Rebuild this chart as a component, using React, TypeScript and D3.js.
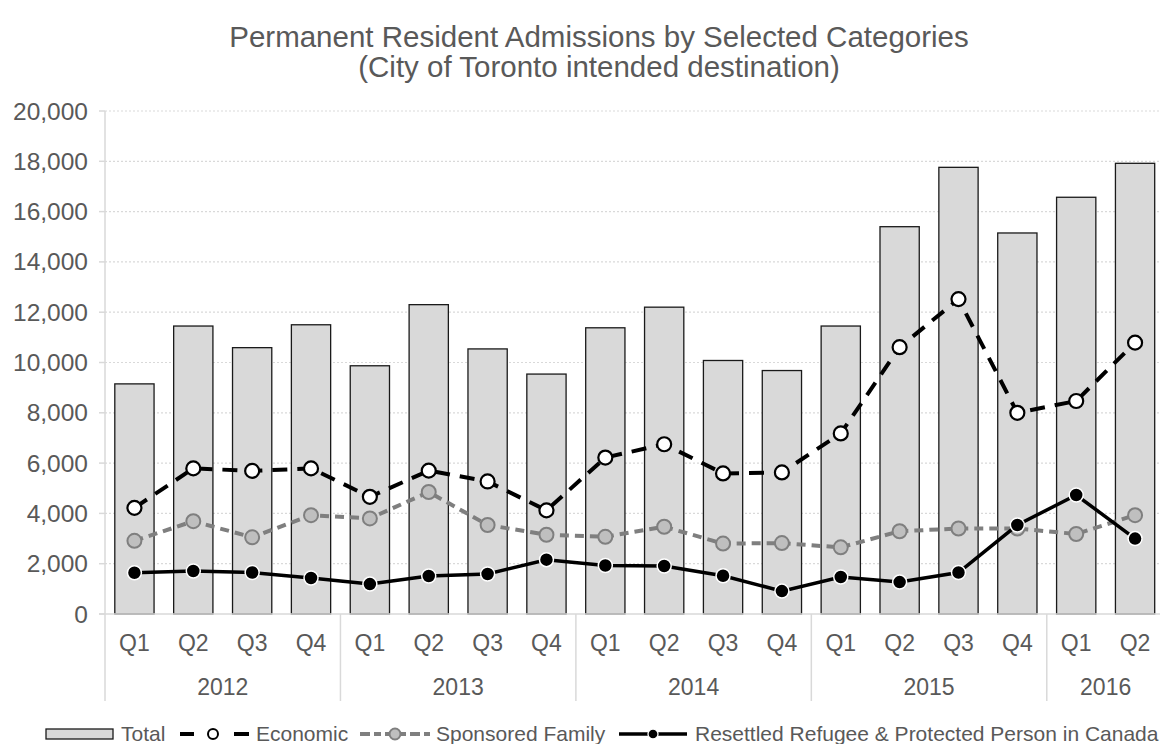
import React, { useEffect, useRef } from 'react';
import * as d3 from 'd3';

const quarters = ['Q1', 'Q2', 'Q3', 'Q4', 'Q1', 'Q2', 'Q3', 'Q4', 'Q1', 'Q2', 'Q3', 'Q4', 'Q1', 'Q2', 'Q3', 'Q4', 'Q1', 'Q2'];
const years = ['2012', '2013', '2014', '2015', '2016'];
const yearSpans = [4, 4, 4, 4, 2];

const total = [9150, 11450, 10590, 11500, 9870, 12300, 10540, 9540, 11380, 12200, 10080, 9680, 11450, 15400, 17760, 15150, 16570, 17920];
const economic = [4220, 5790, 5690, 5790, 4660, 5700, 5270, 4120, 6220, 6750, 5590, 5630, 7180, 10610, 12520, 8000, 8470, 10790];
const sponsored = [2910, 3690, 3050, 3930, 3800, 4850, 3540, 3150, 3070, 3470, 2800, 2820, 2650, 3290, 3400, 3400, 3180, 3930];
const refugee = [1640, 1710, 1650, 1430, 1190, 1510, 1590, 2160, 1930, 1910, 1520, 910, 1470, 1270, 1650, 3540, 4730, 3000];

const yTicks = [0, 2000, 4000, 6000, 8000, 10000, 12000, 14000, 16000, 18000, 20000];

const W = 1160;
const H = 744;
const FONT = 'Liberation Sans, Arial, sans-serif';
const TEXT = '#595959';
const AXIS = '#d9d9d9';

const App: React.FC = () => {
  const svgRef = useRef<SVGSVGElement>(null);

  useEffect(() => {
    if (!svgRef.current) return;
    const svg = d3.select(svgRef.current);
    svg.selectAll('*').remove();

    const left = 105;
    const right = 1164.5;
    const top = 111;
    const bottom = 614;

    const idx = quarters.map((_, i) => i);
    const x = d3.scaleBand<number>().domain(idx).range([left, right]).paddingInner(0.333).paddingOuter(0.1665);
    const step = x.step();
    const cx = (i: number) => (x(i) as number) + x.bandwidth() / 2;
    const y = d3.scaleLinear().domain([0, 20000]).range([bottom, top]);

    // Title
    const title = svg.append('g').attr('font-family', FONT).attr('fill', TEXT).attr('font-size', 29.5).attr('text-anchor', 'middle');
    title.append('text').attr('x', 599).attr('y', 47).text('Permanent Resident Admissions by Selected Categories');
    title.append('text').attr('x', 599).attr('y', 77).text('(City of Toronto intended destination)');

    // Grid lines
    svg.append('g')
      .selectAll('line')
      .data(yTicks.filter(t => t > 0))
      .join('line')
      .attr('x1', left)
      .attr('x2', W)
      .attr('y1', d => y(d))
      .attr('y2', d => y(d))
      .attr('stroke', AXIS)
      .attr('stroke-width', 1.2)
      .attr('stroke-dasharray', '2 2');

    // Y axis
    const yAxis = svg.append('g');
    yAxis.append('line').attr('x1', left).attr('x2', left).attr('y1', top).attr('y2', bottom).attr('stroke', AXIS).attr('stroke-width', 1.5);
    yAxis.selectAll('line.tick')
      .data(yTicks)
      .join('line')
      .attr('class', 'tick')
      .attr('x1', left - 6)
      .attr('x2', left)
      .attr('y1', d => y(d))
      .attr('y2', d => y(d))
      .attr('stroke', AXIS)
      .attr('stroke-width', 1.5);
    yAxis.selectAll('text')
      .data(yTicks)
      .join('text')
      .attr('x', 88)
      .attr('y', d => y(d))
      .attr('dy', '0.35em')
      .attr('text-anchor', 'end')
      .attr('font-family', FONT)
      .attr('font-size', 24.5)
      .attr('fill', TEXT)
      .text(d => d3.format(',')(d));

    // Bars
    svg.append('g')
      .selectAll('rect')
      .data(total)
      .join('rect')
      .attr('x', (_, i) => x(i) as number)
      .attr('y', d => y(d))
      .attr('width', x.bandwidth())
      .attr('height', d => bottom - y(d))
      .attr('fill', '#d9d9d9')
      .attr('stroke', '#1a1a1a')
      .attr('stroke-width', 1.3);

    // X axis
    const xAxis = svg.append('g');
    xAxis.append('line').attr('x1', left - 6).attr('x2', W).attr('y1', bottom).attr('y2', bottom).attr('stroke', AXIS).attr('stroke-width', 1.5);
    let acc = 0;
    const bounds = [0];
    yearSpans.forEach(s => { acc += s; bounds.push(acc); });
    xAxis.selectAll('line.sep')
      .data(bounds)
      .join('line')
      .attr('class', 'sep')
      .attr('x1', d => left + d * step)
      .attr('x2', d => left + d * step)
      .attr('y1', bottom)
      .attr('y2', 701)
      .attr('stroke', AXIS)
      .attr('stroke-width', 1.5);
    xAxis.selectAll('text.q')
      .data(quarters)
      .join('text')
      .attr('class', 'q')
      .attr('x', (_, i) => cx(i))
      .attr('y', 651)
      .attr('text-anchor', 'middle')
      .attr('font-family', FONT)
      .attr('font-size', 23)
      .attr('fill', TEXT)
      .text(d => d);
    xAxis.selectAll('text.yr')
      .data(years)
      .join('text')
      .attr('class', 'yr')
      .attr('x', (_, i) => left + (bounds[i] + yearSpans[i] / 2) * step)
      .attr('y', 695)
      .attr('text-anchor', 'middle')
      .attr('font-family', FONT)
      .attr('font-size', 23)
      .attr('fill', TEXT)
      .text(d => d);

    // Lines
    const line = d3.line<number>().x((_, i) => cx(i)).y(d => y(d));

    const series = [
      { data: sponsored, stroke: '#7f7f7f', width: 4, dash: '9 6', fill: '#bfbfbf', mstroke: '#7f7f7f', r: 7, mw: 2 },
      { data: economic, stroke: '#000000', width: 4, dash: '15 10', fill: '#ffffff', mstroke: '#000000', r: 7, mw: 2.2 },
      { data: refugee, stroke: '#000000', width: 3.5, dash: null, fill: '#000000', mstroke: '#ffffff', r: 7, mw: 1.5 },
    ];

    series.forEach(s => {
      svg.append('path')
        .datum(s.data)
        .attr('fill', 'none')
        .attr('stroke', s.stroke)
        .attr('stroke-width', s.width)
        .attr('stroke-dasharray', s.dash)
        .attr('d', line);
      svg.append('g')
        .selectAll('circle')
        .data(s.data)
        .join('circle')
        .attr('cx', (_, i) => cx(i))
        .attr('cy', d => y(d))
        .attr('r', s.r)
        .attr('fill', s.fill)
        .attr('stroke', s.mstroke)
        .attr('stroke-width', s.mw);
    });

    // Legend
    const ly = 734;
    const legend = svg.append('g').attr('font-family', FONT).attr('font-size', 21).attr('fill', TEXT);
    legend.append('rect').attr('x', 46).attr('y', ly - 5).attr('width', 67).attr('height', 10)
      .attr('fill', '#d9d9d9').attr('stroke', '#1a1a1a').attr('stroke-width', 1.3);
    legend.append('text').attr('x', 121).attr('y', ly).attr('dy', '0.33em').text('Total');

    [[180, 194], [234, 249]].forEach(([a, b]) => {
      legend.append('line').attr('x1', a).attr('x2', b).attr('y1', ly).attr('y2', ly)
        .attr('stroke', '#000').attr('stroke-width', 4);
    });
    legend.append('circle').attr('cx', 213).attr('cy', ly).attr('r', 5).attr('fill', '#fff').attr('stroke', '#000').attr('stroke-width', 2);
    legend.append('text').attr('x', 256).attr('y', ly).attr('dy', '0.33em').text('Economic');

    legend.append('line').attr('x1', 360).attr('x2', 430).attr('y1', ly).attr('y2', ly)
      .attr('stroke', '#7f7f7f').attr('stroke-width', 4).attr('stroke-dasharray', '10 4 7 4');
    legend.append('circle').attr('cx', 395).attr('cy', ly).attr('r', 5.5).attr('fill', '#bfbfbf').attr('stroke', '#7f7f7f').attr('stroke-width', 2);
    legend.append('text').attr('x', 436).attr('y', ly).attr('dy', '0.33em').text('Sponsored Family');

    legend.append('line').attr('x1', 619).attr('x2', 687).attr('y1', ly).attr('y2', ly)
      .attr('stroke', '#000').attr('stroke-width', 3.5);
    legend.append('circle').attr('cx', 653).attr('cy', ly).attr('r', 5).attr('fill', '#000').attr('stroke', '#fff').attr('stroke-width', 1.3);
    legend.append('text').attr('x', 695).attr('y', ly).attr('dy', '0.33em').text('Resettled Refugee & Protected Person in Canada');
  }, []);

  return (
    <div style={{ position: 'absolute', left: 0, top: 0 }}>
      <svg ref={svgRef} width={W} height={H} style={{ display: 'block' }} />
    </div>
  );
};

export default App;
